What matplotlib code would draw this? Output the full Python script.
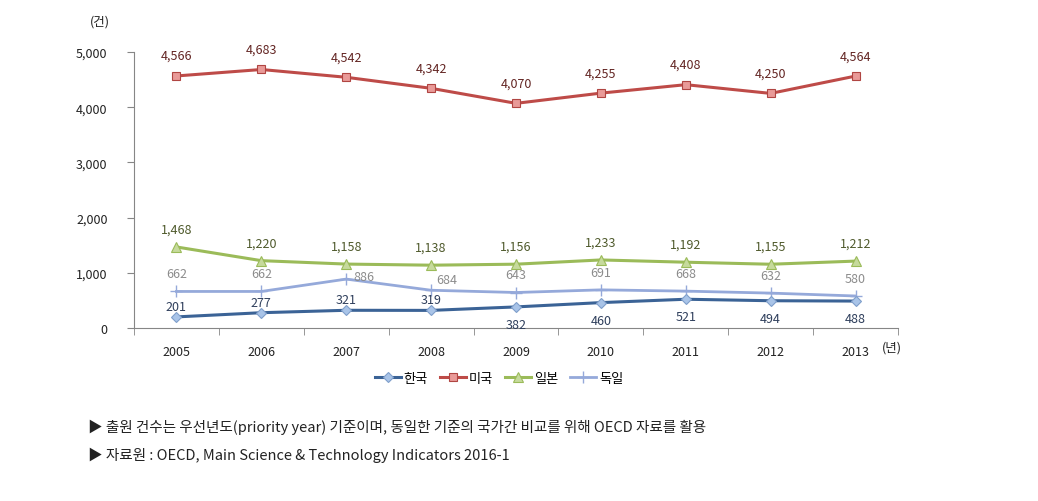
import matplotlib
matplotlib.use("Agg")
import matplotlib.pyplot as plt
from matplotlib.ticker import FuncFormatter, FixedLocator

plt.rcParams['font.family'] = ['Noto Sans CJK KR', 'DejaVu Sans']

years = ['2005', '2006', '2007', '2008', '2009', '2010', '2011', '2012', '2013']
korea = [201, 277, 321, 319, 382, 460, 521, 494, 488]
usa = [4566, 4683, 4542, 4342, 4070, 4255, 4408, 4250, 4564]
japan = [1468, 1220, 1158, 1138, 1156, 1233, 1192, 1155, 1212]
germany = [662, 662, 886, 684, 643, 691, 668, 632, 580]
series_names = ['한국', '미국', '일본', '독일']

fig = plt.figure(figsize=(10.38, 5.02), dpi=100)
ax = fig.add_axes([134/1038, 1-329/502, (898-134)/1038, (329-53)/502])

x = list(range(len(years)))

ax.plot(x, korea, color='#3B6396', lw=2.2, marker='D', ms=5, mfc='#A9C4E8', mec='#7F9FCB', mew=0.8, label=series_names[0], zorder=4)
ax.plot(x, usa, color='#BE4B48', lw=2.2, marker='s', ms=6, mfc='#E99A98', mec='#B04542', mew=0.8, label=series_names[1], zorder=4)
ax.plot(x, japan, color='#9BBB59', lw=2.2, marker='^', ms=7, mfc='#C6DA9C', mec='#9BBB59', mew=0.8, label=series_names[2], zorder=4)
ax.plot(x, germany, color='#95A9DA', lw=2.0, marker='+', ms=8, mec='#95A9DA', mew=1.0, label=series_names[3], zorder=3)

fs = 9
def fmt(v):
    return f"{v:,}"

for i, v in enumerate(usa):
    ax.annotate(fmt(v), (i, v), xytext=(0, 10), textcoords='offset points', ha='center', va='bottom', fontsize=fs, color='#632523')
for i, v in enumerate(japan):
    ax.annotate(fmt(v), (i, v), xytext=(0, 8), textcoords='offset points', ha='center', va='bottom', fontsize=fs, color='#4F5A2C')
g_off = [(0, 8), (0, 8), (13, -3), (11, 3), (0, 8), (0, 8), (0, 8), (0, 8), (0, 8)]
for i, v in enumerate(germany):
    ax.annotate(fmt(v), (i, v), xytext=g_off[i], textcoords='offset points', ha='center', va='bottom', fontsize=fs, color='#8C8C8C')
for i, v in enumerate(korea):
    if i < 4:
        ax.annotate(fmt(v), (i, v), xytext=(0, 3), textcoords='offset points', ha='center', va='bottom', fontsize=fs, color='#2F3F5C')
    else:
        ax.annotate(fmt(v), (i, v), xytext=(0, -8), textcoords='offset points', ha='center', va='top', fontsize=fs, color='#2F3F5C')

ax.set_xlim(-0.5, len(years) - 0.5)
ax.set_ylim(0, 5000)
ax.set_yticks([0, 1000, 2000, 3000, 4000, 5000])
ax.yaxis.set_major_formatter(FuncFormatter(lambda v, p: f"{int(v):,}"))
ax.set_xticks(x)
ax.set_xticklabels(years)
ax.xaxis.set_minor_locator(FixedLocator([i - 0.5 for i in range(len(years) + 1)]))
ax.tick_params(axis='x', which='major', length=0, pad=12, labelsize=9)
ax.tick_params(axis='x', which='minor', length=5, color='#868686', direction='out')
ax.tick_params(axis='y', length=5, color='#868686', labelsize=9, pad=14)
for lab in ax.get_xticklabels() + ax.get_yticklabels():
    lab.set_color('#222222')

for s in ['top', 'right']:
    ax.spines[s].set_visible(False)
ax.spines['left'].set_color('#868686')
ax.spines['bottom'].set_color('#868686')

fig.text(100/1038, 1-22/502, '(건)', fontsize=9, ha='center', va='center', color='#222222')
fig.text(892/1038, 1-348/502, '(년)', fontsize=9, ha='center', va='center', color='#222222')

fig.legend(loc='center', bbox_to_anchor=(499/1038, 1-379/502), ncol=4, frameon=False,
           fontsize=9.5, handlelength=2.0, handletextpad=0.2, columnspacing=0.9)

fig.text(88/1038, 1-427/502, '▶ 출원 건수는 우선년도(priority year) 기준이며, 동일한 기준의 국가간 비교를 위해 OECD 자료를 활용',
         fontsize=10.5, ha='left', va='center', color='#222222')
fig.text(88/1038, 1-455/502, '▶ 자료원 : OECD, Main Science & Technology Indicators 2016-1',
         fontsize=10.5, ha='left', va='center', color='#222222')

fig.savefig('out.png', dpi=100)
